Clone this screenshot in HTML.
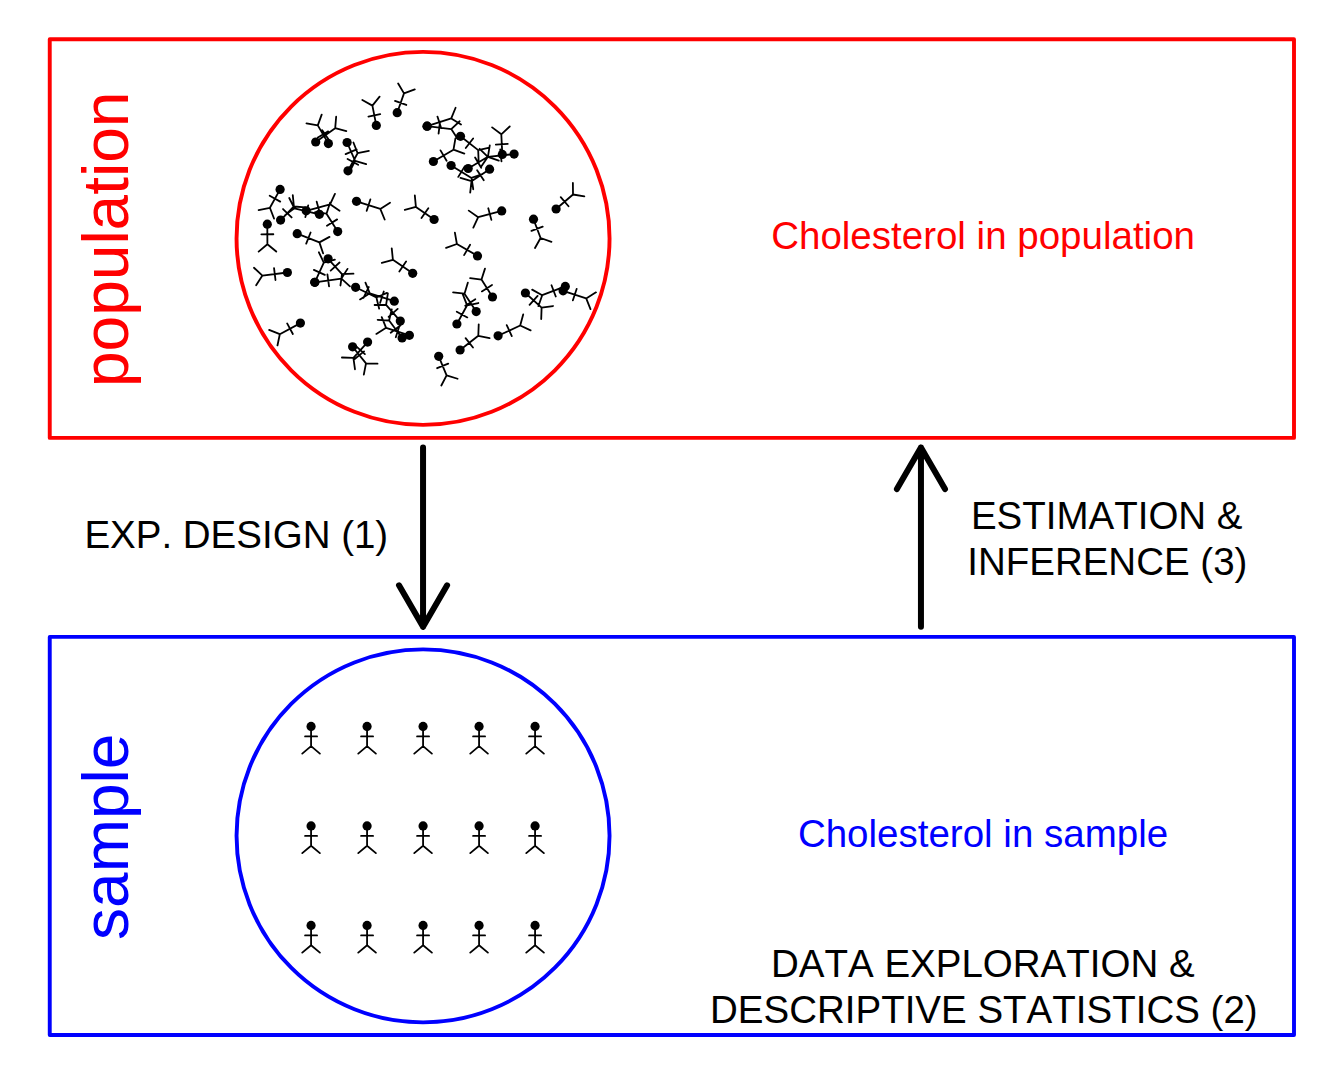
<!DOCTYPE html>
<html><head><meta charset="utf-8"><style>
html,body{margin:0;padding:0;background:#fff;}
svg{display:block;}
text{font-family:"Liberation Sans", sans-serif;font-kerning:none;}
</style></head><body>
<svg width="1344" height="1075" viewBox="0 0 1344 1075">
<rect x="0" y="0" width="1344" height="1075" fill="#fff"/>
<rect x="49.75" y="39.3" width="1244.25" height="398.6" fill="none" stroke="#f00" stroke-width="3.9" stroke-linejoin="round"/>
<rect x="49.75" y="636.9" width="1244.25" height="398.1" fill="none" stroke="#00f" stroke-width="3.9" stroke-linejoin="round"/>
<circle cx="423.05" cy="238.4" r="186.5" fill="none" stroke="#f00" stroke-width="3.9"/>
<circle cx="423.05" cy="835.85" r="186.5" fill="none" stroke="#00f" stroke-width="3.9"/>
<g stroke="#000" stroke-width="6" stroke-linecap="round" stroke-linejoin="round" fill="none">
<path d="M423.05 447.6L423.05 626.8M399.0 585.3L423.05 626.8L447.1 585.3"/>
<path d="M920.95 626.8L920.95 447.6M896.9 489.1L920.95 447.6L945.0 489.1"/>
</g>
<g fill="#000" font-size="38.5">
<text x="84.4" y="548.0">EXP. DESIGN (1)</text>
<text x="970.9" y="529.1">ESTIMATION &amp;</text>
<text x="967.2" y="574.8">INFERENCE (3)</text>
<text x="771.0" y="976.7">DATA EXPLORATION &amp;</text>
<text x="710.0" y="1022.7">DESCRIPTIVE STATISTICS (2)</text>
</g>
<text x="771.2" y="248.8" font-size="38.5" fill="#f00">Cholesterol in population</text>
<text x="797.9" y="846.8" font-size="38.5" fill="#00f">Cholesterol in sample</text>
<text transform="translate(127.7 239.3) rotate(-90)" text-anchor="middle" font-size="64" fill="#f00">population</text>
<text transform="translate(127.9 836.8) rotate(-90)" text-anchor="middle" font-size="64" fill="#00f">sample</text>
<g stroke="#000" stroke-width="1.8" stroke-linecap="round" stroke-linejoin="round" fill="none">
<path d="M376.30 125.40L372.40 105.60M380.22 114.24L368.44 116.56M379.60 96.64L372.40 105.60L362.34 100.04M397.20 112.70L404.00 93.40M406.29 104.95L394.98 100.96M414.76 89.34L404.00 93.40L398.16 83.50M315.70 142.00L335.20 128.20M329.01 139.93L322.08 130.13M346.32 131.11L335.20 128.20L336.16 116.74M328.40 143.60L317.80 125.40M328.23 131.39L317.86 137.43M321.68 114.58L317.80 125.40L306.47 123.43M347.10 142.50L355.10 160.90M345.64 154.19L356.64 149.40M349.98 171.20L355.10 160.90L366.12 164.18M348.00 170.80L357.60 153.20M358.12 164.78L347.58 159.04M368.87 150.92L357.60 153.20L353.42 142.49M280.10 189.40L269.90 207.80M269.70 195.78L280.20 201.60M258.62 210.01L269.90 207.80L274.01 218.54M280.60 220.10L293.90 206.50M291.61 217.43L283.03 209.04M305.37 207.36L293.90 206.50L292.78 195.06M306.20 210.80L330.10 204.30M319.85 213.31L316.70 201.73M339.55 210.85L330.10 204.30L334.93 193.87M319.40 214.30L294.40 208.30M308.17 205.44L305.37 217.10M289.26 198.02L294.40 208.30L285.15 215.13M337.70 231.60L326.50 213.70M337.13 219.38L326.96 225.74M330.03 202.76L326.50 213.70L315.11 212.09M356.50 201.30L380.30 208.90M366.70 210.85L370.35 199.42M384.67 219.53L380.30 208.90L390.03 202.77M267.30 224.20L267.40 244.20M261.35 234.33L273.35 234.27M258.64 251.64L267.40 244.20L276.24 251.56M297.20 233.70L319.40 242.40M306.22 243.68L310.60 232.51M323.08 253.29L319.40 242.40L329.50 236.91M434.10 219.50L415.90 206.90M428.32 208.20L421.49 218.07M414.82 195.45L415.90 206.90L404.81 209.92M287.40 272.50L262.40 275.60M274.04 268.11L275.51 280.02M253.97 267.78L262.40 275.60L256.14 285.24M328.10 258.80L342.00 274.10M330.68 270.56L339.56 262.49M340.46 285.49L342.00 274.10L353.49 273.66M314.80 282.30L341.40 278.60M329.06 286.37L327.41 274.49M349.94 286.30L341.40 278.60L347.52 268.86M314.80 282.30L323.80 262.70M324.80 274.90L313.89 269.90M334.89 259.65L323.80 262.70L318.89 252.30M412.70 273.30L392.90 259.80M406.08 261.52L399.32 271.44M391.74 248.36L392.90 259.80L381.83 262.90M355.60 287.30L376.40 297.50M363.46 297.84L368.75 287.06M379.17 308.66L376.40 297.50L386.92 292.86M394.30 301.20L369.80 293.30M383.77 291.50L380.08 302.92M365.46 282.65L369.80 293.30L360.06 299.40M400.30 321.10L386.10 304.80M397.65 308.93L388.60 316.81M387.87 293.44L386.10 304.80L374.60 305.00M402.10 338.00L389.10 320.50M400.35 325.58L390.72 332.74M391.75 309.31L389.10 320.50L377.62 319.81M409.40 335.30L386.10 327.80M399.47 325.80L395.79 337.22M381.75 317.16L386.10 327.80L376.36 333.91M300.40 323.10L279.80 334.20M287.15 323.42L292.84 333.99M269.11 329.96L279.80 334.20L277.46 345.46M352.60 346.80L366.00 363.40M354.70 358.95L364.04 351.42M363.80 374.69L366.00 363.40L377.50 363.63M367.60 342.10L353.40 357.90M355.97 346.07L364.89 354.09M341.91 357.52L353.40 357.90L355.00 369.29M427.10 126.20L451.25 118.40M441.14 127.97L437.45 116.55M461.00 124.50L451.25 118.40L455.59 107.75M427.10 126.20L451.25 129.10M438.58 133.62L440.01 121.71M457.55 138.72L451.25 129.10L459.65 121.25M460.50 136.30L478.20 150.10M465.75 148.00L473.13 138.54M478.63 161.59L478.20 150.10L489.45 147.71M502.30 154.40L501.30 134.30M507.79 143.95L495.80 144.55M509.72 126.47L501.30 134.30L492.14 127.35M514.10 154.10L487.90 156.80M500.25 149.50L501.48 161.43M479.64 148.80L487.90 156.80L481.44 166.31M433.40 161.50L453.50 149.70M446.59 160.71L440.51 150.37M464.34 153.54L453.50 149.70L455.43 138.36M451.10 165.50L471.50 177.90M458.29 176.89L464.52 166.64M473.25 189.26L471.50 177.90L482.39 174.22M468.20 168.50L487.90 156.80M481.21 167.75L475.09 157.43M498.76 160.59L487.90 156.80L489.77 145.46M489.60 169.20L471.50 181.20M477.14 170.26L483.77 180.26M460.47 177.95L471.50 181.20L470.20 192.62M501.70 210.90L478.20 217.20M488.28 208.29L491.38 219.88M468.77 210.62L478.20 217.20L473.33 227.62M533.50 219.20L540.60 238.00M531.47 230.81L542.70 226.58M534.98 248.03L540.60 238.00L551.45 241.81M556.10 209.00L573.00 194.50M568.54 206.23L560.73 197.12M584.35 196.36L573.00 194.50L572.89 183.00M477.50 255.90L456.90 244.00M470.10 244.69L464.09 255.09M454.89 232.68L456.90 244.00L446.09 247.92M492.50 297.00L481.50 279.60M492.02 285.01L481.87 291.42M484.98 268.64L481.50 279.60L470.11 278.05M476.20 311.60L464.50 293.70M475.31 299.28L465.27 305.84M467.82 282.69L464.50 293.70L453.09 292.32M456.90 324.00L467.10 305.30M467.32 317.43L456.78 311.68M478.37 303.02L467.10 305.30L462.92 294.59M460.10 350.00L478.30 335.80M472.98 347.56L465.60 338.10M489.55 338.19L478.30 335.80L478.72 324.31M498.10 335.80L520.20 325.50M511.80 336.04L506.73 325.16M530.62 330.35L520.20 325.50L523.19 314.40M438.70 356.30L446.60 375.30M437.15 368.20L448.23 363.59M441.32 385.51L446.60 375.30L457.57 378.75M525.40 293.00L541.60 307.60M529.56 304.83L537.60 295.92M541.21 319.09L541.60 307.60L552.99 306.02M565.30 286.40L542.20 295.20M551.50 285.24L555.77 296.45M532.15 289.61L542.20 295.20L538.42 306.06M563.10 290.80L586.20 298.40M572.89 300.34L576.64 288.94M590.48 309.07L586.20 298.40L595.98 292.35M311.07 726.38L311.07 746.18M305.07 736.38L317.07 736.38M302.27 753.58L311.07 746.18L319.87 753.58M367.07 726.38L367.07 746.18M361.07 736.38L373.07 736.38M358.27 753.58L367.07 746.18L375.87 753.58M423.07 726.38L423.07 746.18M417.07 736.38L429.07 736.38M414.27 753.58L423.07 746.18L431.87 753.58M479.07 726.38L479.07 746.18M473.07 736.38L485.07 736.38M470.27 753.58L479.07 746.18L487.87 753.58M535.07 726.38L535.07 746.18M529.07 736.38L541.07 736.38M526.27 753.58L535.07 746.18L543.87 753.58M311.07 825.92L311.07 845.72M305.07 835.92L317.07 835.92M302.27 853.12L311.07 845.72L319.87 853.12M367.07 825.92L367.07 845.72M361.07 835.92L373.07 835.92M358.27 853.12L367.07 845.72L375.87 853.12M423.07 825.92L423.07 845.72M417.07 835.92L429.07 835.92M414.27 853.12L423.07 845.72L431.87 853.12M479.07 825.92L479.07 845.72M473.07 835.92L485.07 835.92M470.27 853.12L479.07 845.72L487.87 853.12M535.07 825.92L535.07 845.72M529.07 835.92L541.07 835.92M526.27 853.12L535.07 845.72L543.87 853.12M311.07 925.46L311.07 945.26M305.07 935.46L317.07 935.46M302.27 952.66L311.07 945.26L319.87 952.66M367.07 925.46L367.07 945.26M361.07 935.46L373.07 935.46M358.27 952.66L367.07 945.26L375.87 952.66M423.07 925.46L423.07 945.26M417.07 935.46L429.07 935.46M414.27 952.66L423.07 945.26L431.87 952.66M479.07 925.46L479.07 945.26M473.07 935.46L485.07 935.46M470.27 952.66L479.07 945.26L487.87 952.66M535.07 925.46L535.07 945.26M529.07 935.46L541.07 935.46M526.27 952.66L535.07 945.26L543.87 952.66"/>
</g>
<g fill="#000">
<circle cx="376.30" cy="125.40" r="4.6"/><circle cx="397.20" cy="112.70" r="4.6"/><circle cx="315.70" cy="142.00" r="4.6"/><circle cx="328.40" cy="143.60" r="4.6"/><circle cx="347.10" cy="142.50" r="4.6"/><circle cx="348.00" cy="170.80" r="4.6"/><circle cx="280.10" cy="189.40" r="4.6"/><circle cx="280.60" cy="220.10" r="4.6"/><circle cx="306.20" cy="210.80" r="4.6"/><circle cx="319.40" cy="214.30" r="4.6"/><circle cx="337.70" cy="231.60" r="4.6"/><circle cx="356.50" cy="201.30" r="4.6"/><circle cx="267.30" cy="224.20" r="4.6"/><circle cx="297.20" cy="233.70" r="4.6"/><circle cx="434.10" cy="219.50" r="4.6"/><circle cx="287.40" cy="272.50" r="4.6"/><circle cx="328.10" cy="258.80" r="4.6"/><circle cx="314.80" cy="282.30" r="4.6"/><circle cx="314.80" cy="282.30" r="4.6"/><circle cx="412.70" cy="273.30" r="4.6"/><circle cx="355.60" cy="287.30" r="4.6"/><circle cx="394.30" cy="301.20" r="4.6"/><circle cx="400.30" cy="321.10" r="4.6"/><circle cx="402.10" cy="338.00" r="4.6"/><circle cx="409.40" cy="335.30" r="4.6"/><circle cx="300.40" cy="323.10" r="4.6"/><circle cx="352.60" cy="346.80" r="4.6"/><circle cx="367.60" cy="342.10" r="4.6"/><circle cx="427.10" cy="126.20" r="4.6"/><circle cx="427.10" cy="126.20" r="4.6"/><circle cx="460.50" cy="136.30" r="4.6"/><circle cx="502.30" cy="154.40" r="4.6"/><circle cx="514.10" cy="154.10" r="4.6"/><circle cx="433.40" cy="161.50" r="4.6"/><circle cx="451.10" cy="165.50" r="4.6"/><circle cx="468.20" cy="168.50" r="4.6"/><circle cx="489.60" cy="169.20" r="4.6"/><circle cx="501.70" cy="210.90" r="4.6"/><circle cx="533.50" cy="219.20" r="4.6"/><circle cx="556.10" cy="209.00" r="4.6"/><circle cx="477.50" cy="255.90" r="4.6"/><circle cx="492.50" cy="297.00" r="4.6"/><circle cx="476.20" cy="311.60" r="4.6"/><circle cx="456.90" cy="324.00" r="4.6"/><circle cx="460.10" cy="350.00" r="4.6"/><circle cx="498.10" cy="335.80" r="4.6"/><circle cx="438.70" cy="356.30" r="4.6"/><circle cx="525.40" cy="293.00" r="4.6"/><circle cx="565.30" cy="286.40" r="4.6"/><circle cx="563.10" cy="290.80" r="4.6"/><circle cx="311.07" cy="726.38" r="4.6"/><circle cx="367.07" cy="726.38" r="4.6"/><circle cx="423.07" cy="726.38" r="4.6"/><circle cx="479.07" cy="726.38" r="4.6"/><circle cx="535.07" cy="726.38" r="4.6"/><circle cx="311.07" cy="825.92" r="4.6"/><circle cx="367.07" cy="825.92" r="4.6"/><circle cx="423.07" cy="825.92" r="4.6"/><circle cx="479.07" cy="825.92" r="4.6"/><circle cx="535.07" cy="825.92" r="4.6"/><circle cx="311.07" cy="925.46" r="4.6"/><circle cx="367.07" cy="925.46" r="4.6"/><circle cx="423.07" cy="925.46" r="4.6"/><circle cx="479.07" cy="925.46" r="4.6"/><circle cx="535.07" cy="925.46" r="4.6"/>
</g>
</svg>
</body></html>
